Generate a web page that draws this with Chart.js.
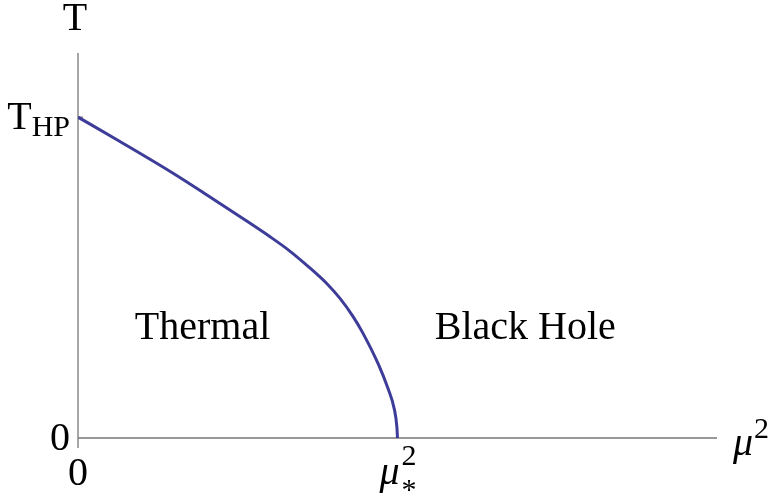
<!DOCTYPE html>
<html>
<head>
<meta charset="utf-8">
<script src="https://cdn.jsdelivr.net/npm/chart.js@4.4.1/dist/chart.umd.min.js"></script>
<style>
  body { margin: 0; background: #fff; }
  #wrap { width: 775px; height: 496px; }
  .preload { font-family: "Liberation Serif", "DejaVu Serif"; position: absolute; left: -999px; }
</style>
</head>
<body>
<span class="preload">T <i>μ</i></span>
<div id="wrap"><canvas id="phase"></canvas></div>
<script>
// phase boundary (x = mu^2 / mu*^2, y = T / T_HP)
const muSq = [0, 0.13, 0.29, 0.40, 0.51, 0.60, 0.66, 0.72, 0.78, 0.82, 0.86, 0.89, 0.94, 0.97, 0.99, 0.998, 1];
const temp = [1, 0.925, 0.83, 0.76, 0.688, 0.628, 0.585, 0.535, 0.48, 0.435, 0.38, 0.33, 0.23, 0.155, 0.09, 0.035, 0];

// tick values and their labels
const yTicks = [0, 1];
const yTickLabels = ["0", "T_HP"];
const xTicks = [0, 1];
const xTickLabels = ["0", "μ*2"];

// region names
const regions = ["Thermal", "Black Hole"];
const regionX = [0.39, 1.4];
const regionY = [0.31, 0.31];

const serif = "Liberation Serif, DejaVu Serif, Times New Roman, serif";
const lineColor = "#3d3d99";
const axisColor = "#777777";

// main text plus optional subscript / superscript
function richText(ctx, main, sub, sup, x, y, align, italic) {
  const big = (italic ? "italic " : "") + "40px " + serif;
  const small = "30px " + serif;
  ctx.font = big;
  const wMain = ctx.measureText(main).width;
  ctx.font = small;
  const wSub = sub ? ctx.measureText(sub).width : 0;
  const wSup = sup ? ctx.measureText(sup).width : 0;
  const total = wMain + Math.max(wSub, wSup);
  let left = x;
  if (align === "right") left = x - total;
  ctx.textAlign = "left";
  ctx.textBaseline = "alphabetic";
  ctx.font = big;
  ctx.fillText(main, left, y);
  ctx.font = small;
  if (sub) ctx.fillText(sub, left + wMain, y + 7);
  if (sup) ctx.fillText(sup, left + wMain + 1, y - 17);
}

const axesPlugin = {
  id: "axesPlugin",
  beforeDatasetsDraw(chart) {
    const { ctx, scales: { x, y } } = chart;
    const x0 = x.getPixelForValue(0);
    const y0 = y.getPixelForValue(0);
    ctx.save();
    ctx.strokeStyle = axisColor;
    ctx.lineWidth = 1.3;
    ctx.beginPath();
    ctx.moveTo(x0, y.getPixelForValue(y.max));
    ctx.lineTo(x0, y0 + 10);
    ctx.moveTo(x0, y0);
    ctx.lineTo(x.getPixelForValue(x.max), y0);
    // small inward ticks on the y axis
    yTicks.forEach(v => {
      const py = y.getPixelForValue(v);
      ctx.moveTo(x0, py);
      ctx.lineTo(x0 + 5, py);
    });
    ctx.stroke();
    ctx.restore();
  },
  afterDraw(chart) {
    const { ctx, scales: { x, y } } = chart;
    const x0 = x.getPixelForValue(0);
    const y0 = y.getPixelForValue(0);
    ctx.save();
    ctx.fillStyle = "#000";

    // axis names
    ctx.font = "40px " + serif;
    ctx.textAlign = "center";
    ctx.textBaseline = "alphabetic";
    ctx.fillText("T", x0 - 3, 30);
    richText(ctx, "μ", null, "2", x.getPixelForValue(x.max) + 16, y0 + 17, "left", true);

    // y tick labels
    yTicks.forEach((v, i) => {
      const py = y.getPixelForValue(v);
      const [main, sub] = yTickLabels[i].split("_");
      richText(ctx, main, sub, null, x0 - 8, py + 12, "right", false);
    });

    // x tick labels
    xTicks.forEach((v, i) => {
      const px = x.getPixelForValue(v);
      const s = xTickLabels[i];
      if (s.startsWith("μ")) {
        ctx.font = "italic 40px " + serif;
        const w = ctx.measureText("μ").width;
        ctx.textAlign = "left";
        ctx.fillText("μ", px - w / 2 - 8, y0 + 46);
        ctx.font = "30px " + serif;
        ctx.fillText(s.charAt(2), px + w / 2 - 6, y0 + 27);
        ctx.fillText(s.charAt(1), px + w / 2 - 6, y0 + 61);
      } else {
        ctx.font = "40px " + serif;
        ctx.textAlign = "center";
        ctx.fillText(s, px, y0 + 47);
      }
    });

    // region names
    ctx.font = "40px " + serif;
    ctx.textAlign = "center";
    regions.forEach((r, i) => {
      ctx.fillText(r, x.getPixelForValue(regionX[i]), y.getPixelForValue(regionY[i]));
    });
    ctx.restore();
  }
};

function draw() {
  new Chart(document.getElementById("phase"), {
    type: "line",
    data: {
      datasets: [{
        data: muSq.map((m, i) => ({ x: m, y: temp[i] })),
        borderColor: lineColor,
        borderWidth: 3,
        pointRadius: 0,
        cubicInterpolationMode: "monotone",
        fill: false
      }]
    },
    options: {
      responsive: true,
      maintainAspectRatio: false,
      animation: false,
      layout: { padding: { left: 78, right: 58, top: 53, bottom: 58 } },
      plugins: { legend: { display: false }, tooltip: { enabled: false } },
      scales: {
        x: { type: "linear", min: 0, max: 2, display: false },
        y: { type: "linear", min: 0, max: 1.2, display: false }
      }
    },
    plugins: [axesPlugin]
  });
}

Promise.all([
  document.fonts.load("40px Liberation Serif"),
  document.fonts.load("italic 40px Liberation Serif")
]).then(draw, draw);
</script>
</body>
</html>
